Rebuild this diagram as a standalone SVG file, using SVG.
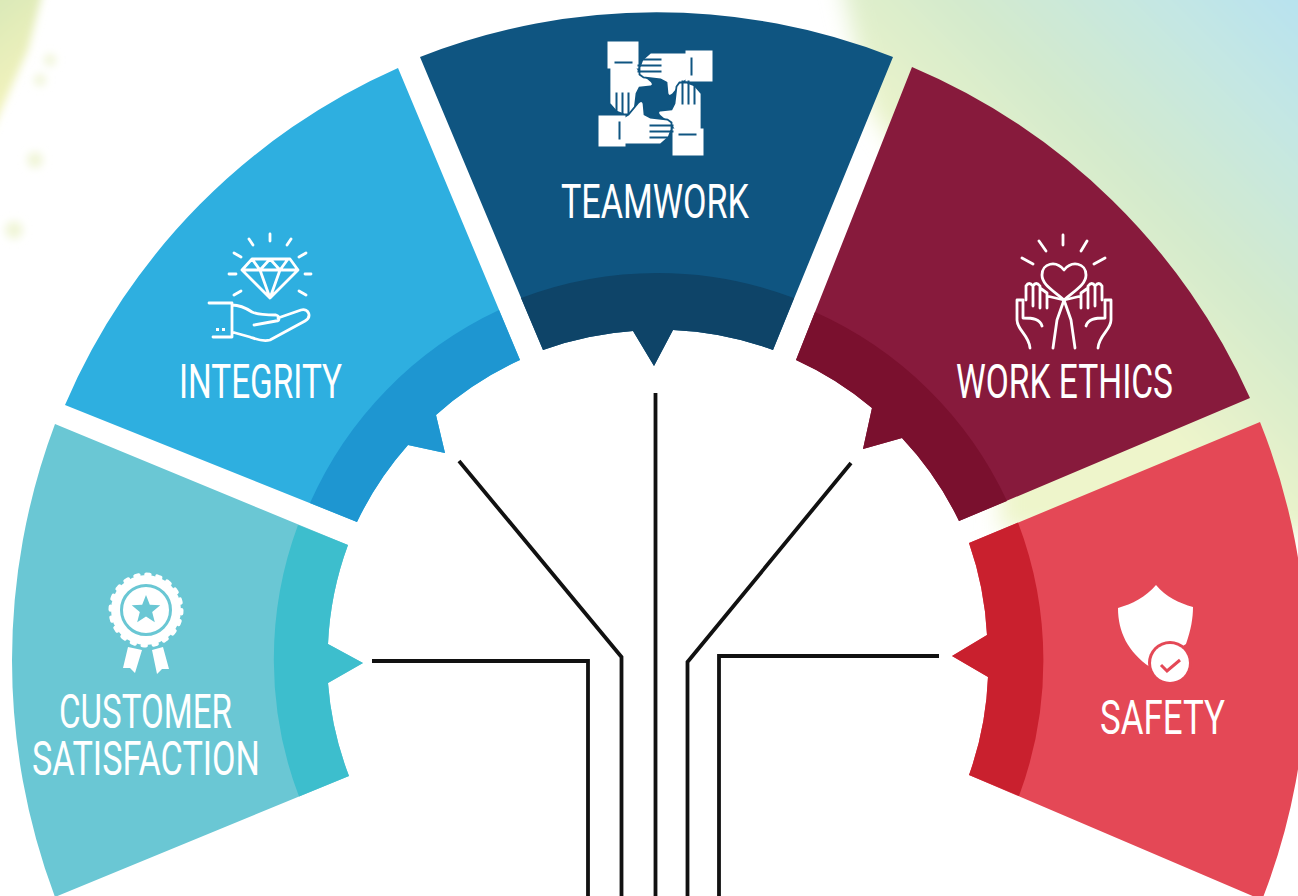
<svg xmlns="http://www.w3.org/2000/svg" width="1298" height="896" viewBox="0 0 1298 896">
<style>
.t{font-family:Roboto,"Liberation Sans",sans-serif;font-weight:400;font-size:49px;fill:#fff}
.w{fill:#fff}
.ln{fill:none;stroke:#fff;stroke-width:2.8;stroke-linecap:round;stroke-linejoin:round}
.c{fill:none;stroke:#111;stroke-width:3.8;stroke-linejoin:miter}
</style>
<defs>
<linearGradient id="sky" gradientUnits="userSpaceOnUse" x1="1298" y1="0" x2="1001" y2="297">
<stop offset="0" stop-color="#b8e2ef"/><stop offset=".25" stop-color="#c5e7e2"/><stop offset=".58" stop-color="#d4eacc"/><stop offset=".95" stop-color="#eef5cb"/>
</linearGradient>
<linearGradient id="lime" gradientUnits="userSpaceOnUse" x1="0" y1="0" x2="50" y2="60">
<stop offset="0" stop-color="#dbe9b8"/><stop offset="1" stop-color="#f0f2bc"/>
</linearGradient>
<filter id="b8" filterUnits="userSpaceOnUse" x="-100" y="-100" width="1500" height="1000"><feGaussianBlur stdDeviation="11"/></filter>
<filter id="b3" filterUnits="userSpaceOnUse" x="-100" y="-100" width="1500" height="1000"><feGaussianBlur stdDeviation="4"/></filter>
<g id="hand">
<path class="w" stroke="#0f5581" stroke-width="1.8" d="M-46,-32 L-19,-32 L-16,-27 L-4,-17 Q-1,-13 -5,-12 L-16,-11 L-19,-5 L-21,12 L-24,16 L-31,16 L-39,13 L-46,5 Z"/>
<rect class="w" x="-48" y="-57" width="31" height="27"/>
<path d="M-41,-36 H-23 M-39,-6 V14 M-33,-6 V18 M-27,-6 V18" fill="none" stroke="#0f5581" stroke-width="2"/>
</g>
</defs>
<g id="background">
<rect width="1298" height="896" fill="#fff"/>
<path d="M838,-30 L1330,-30 L1330,535 L1000,530 L1000,300 L870,110 Z" fill="url(#sky)" filter="url(#b8)"/>
<path d="M-20,-20 L46,-20 L28,50 L-10,135 L-20,135 Z" fill="url(#lime)" filter="url(#b3)"/>
<g fill="#f0f5d8" filter="url(#b3)"><circle cx="50" cy="60" r="6"/><circle cx="40" cy="80" r="6"/><circle cx="35" cy="160" r="8"/><circle cx="14" cy="230" r="9"/></g>
</g>
<g id="node-customer-satisfaction">
<path fill="#6ac7d4" d="M55,424 A672,672 0 0 0 55,897 L349,776 A328,328 0 0 1 328,683 L363,663 L328,644 A328,328 0 0 1 348,545 Z"/>
<path fill="#3dbecd" d="M298,525 A386,386 0 0 0 299,796.6 L349,776 A328,328 0 0 1 328,683 L363,663 L328,644 A328,328 0 0 1 348,545 Z"/>
<circle class="w" cx="146" cy="610" r="35"/>
<circle cx="146" cy="610" r="35.5" fill="none" stroke="#fff" stroke-width="4" stroke-linecap="round" stroke-dasharray="3.5 7.65"/>
<circle cx="146" cy="610" r="24.5" fill="none" stroke="#6ac7d4" stroke-width="3"/>
<path fill="#6ac7d4" transform="translate(146 610)" d="M0,-15 3.82,-5.26 14.27,-4.64 6.18,2 8.82,12.14 0,6.5 -8.82,12.14 -6.18,2 -14.27,-4.64 -3.82,-5.26Z"/>
<path class="w" d="M128,647 142,650 135,673 130,668 123,668Z M152,650 163,647 169,669 162,669 157,674Z"/>
<text class="t" x="59" y="728" textLength="173" lengthAdjust="spacingAndGlyphs">CUSTOMER</text>
<text class="t" x="32" y="775" textLength="228" lengthAdjust="spacingAndGlyphs">SATISFACTION</text>
</g>
<g id="node-integrity">
<path fill="#2eafe0" d="M398,68 A646,646 0 0 0 65,405 L357,522 A328,328 0 0 1 408,445 L445,453 L436,415 A328,328 0 0 1 520,360 Z"/>
<path fill="#1e96d1" d="M499,310 A385,385 0 0 0 310,503 L357,522 A328,328 0 0 1 408,445 L445,453 L436,415 A328,328 0 0 1 520,360 Z"/>
<path class="ln" d="M270,234V241 M249,239L253,245 M291,239L287,245 M234,253L241,257 M306,253L299,257 M229,274H236 M305,274H311 M234,295L241,291 M306,295L299,291"/>
<path class="ln" stroke-width="2.2" d="M252,259H290L298,270L270,298L242,270Z M242,270H298 M252,259L260,270L270,298L280,270L288,259 M260,270L270,259L280,270"/>
<path class="ln" d="M209,303H232V337H213 M232,305C240,305 246,308 252,312C258,315 270,315 276,315C280,316 280,321 276,321L254,325 M278,318L301,310C309,308 312,317 305,321L270,340C262,342 256,339 250,337L232,332"/>
<path class="w" d="M216,328h3v3h-3z M222,328h3v3h-3z"/>
<text class="t" x="179" y="398" textLength="163" lengthAdjust="spacingAndGlyphs">INTEGRITY</text>
</g>
<g id="node-teamwork">
<path fill="#0f5581" d="M420,57 A648,648 0 0 1 893,57 L773,350 A330,330 0 0 0 673,330 L654,366 L633,331 A330,330 0 0 0 543,350 Z"/>
<path fill="#0e4468" d="M521,298 A385,385 0 0 1 794,298 L773,350 A330,330 0 0 0 673,330 L654,366 L633,331 A330,330 0 0 0 543,350 Z"/>
<g transform="translate(655.5 98.5)">
<use href="#hand"/><use href="#hand" transform="rotate(90)"/><use href="#hand" transform="rotate(180)"/><use href="#hand" transform="rotate(270)"/>
</g>
<text class="t" x="561" y="218" textLength="188" lengthAdjust="spacingAndGlyphs">TEAMWORK</text>
</g>
<g id="node-work-ethics">
<path fill="#871a3c" d="M912,67 A646,646 0 0 1 1250,398 L959,521 A328,328 0 0 0 902,438 L863,449 L872,408 A328,328 0 0 0 796,360 Z"/>
<path fill="#7a102e" d="M815,312 A385,385 0 0 1 1007,501 L959,521 A328,328 0 0 0 902,438 L863,449 L872,408 A328,328 0 0 0 796,360 Z"/>
<path class="ln" d="M1063,235V245 M1039,241L1046,251 M1087,241L1081,251 M1022,258L1033,264 M1105,258L1094,264"/>
<path class="ln" d="M1064,270C1056,260 1042,263 1042,275C1042,285 1054,291 1064,300C1074,291 1086,285 1086,275C1086,263 1072,260 1064,270Z"/>
<g id="ethics-hand"><path class="ln" d="M1030,348C1029,335 1017,330 1017,320V300H1023V318C1033,318 1040,319 1042,326 M1026,300V286Q1029,281 1033,286V306 M1033,286Q1036,281 1040,286V308 M1040,288L1047,293V308 M1047,296L1064,300 M1064,300L1057,320L1053,348"/></g>
<use href="#ethics-hand" transform="translate(2128 0) scale(-1 1)"/>
<text class="t" x="956" y="398" textLength="217" lengthAdjust="spacingAndGlyphs">WORK ETHICS</text>
</g>
<g id="node-safety">
<path fill="#e44856" d="M1260,422 A648,648 0 0 1 1262,900 L969,775 A328,328 0 0 0 988,677 L952,656 L987,635 A328,328 0 0 0 969,543 Z"/>
<path fill="#c9202e" d="M1018,522.6 A388,388 0 0 1 1019,796 L969,775 A328,328 0 0 0 988,677 L952,656 L987,635 A328,328 0 0 0 969,543 Z"/>
<path class="w" d="M1156,585C1146,597 1132,604 1118,608C1118,632 1128,652 1150,667L1186,644C1191,630 1193,618 1193,607C1179,603 1166,597 1156,585Z"/>
<circle cx="1170" cy="663" r="22" fill="#e44856"/>
<circle class="w" cx="1170" cy="663" r="19"/>
<path d="M1161,665L1167,671L1180,660" fill="none" stroke="#e44856" stroke-width="3"/>
<text class="t" x="1100" y="734" textLength="125" lengthAdjust="spacingAndGlyphs">SAFETY</text>
</g>
<g id="connectors">
<path class="c" d="M372,661H588V896"/>
<path class="c" d="M459,461L621.5,657V896"/>
<path class="c" d="M655.5,393V896"/>
<path class="c" d="M851,463L687.5,662V896"/>
<path class="c" d="M939,656H719V896"/>
</g>
</svg>
